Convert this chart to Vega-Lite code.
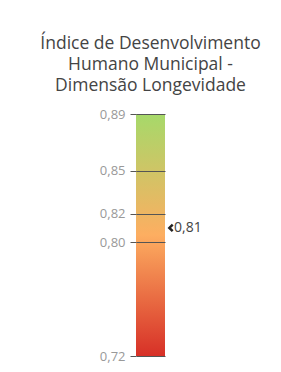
{
  "$schema": "https://vega.github.io/schema/vega-lite/v6.json",
  "autosize": "none",
  "width": 29,
  "height": 242,
  "padding": {"left": 136, "top": 114, "right": 116, "bottom": 16},
  "background": "white",
  "config": {
    "view": {"stroke": null},
    "font": "Open Sans",
    "locale": {"number": {"decimal": ",", "thousands": ".", "grouping": [3], "currency": ["R$", ""]}}
  },
  "title": {
    "text": ["Índice de Desenvolvimento", "Humano Municipal -", "Dimensão Longevidade"],
    "fontSize": 17.5,
    "fontWeight": "normal",
    "font": "Open Sans",
    "color": "#444444",
    "lineHeight": 21,
    "anchor": "middle",
    "offset": 14
  },
  "layer": [
    {
      "data": {"values": [{"indicador": "IDHM Longevidade", "min": 0.72, "max": 0.89}]},
      "mark": {
        "type": "rect",
        "color": {
          "gradient": "linear", "x1": 0, "y1": 0, "x2": 0, "y2": 1,
          "stops": [
            {"offset": 0, "color": "#a6d96a"},
            {"offset": 0.5, "color": "#fdae61"},
            {"offset": 1, "color": "#d73027"}
          ]
        }
      },
      "encoding": {
        "y": {
          "field": "min", "type": "quantitative",
          "scale": {"domain": [0.72, 0.89], "nice": false, "zero": false},
          "axis": {
            "values": [0.72, 0.8, 0.82, 0.85, 0.89],
            "title": null,
            "domain": false,
            "tickSize": 6,
            "tickColor": "#555555",
            "grid": true,
            "gridColor": "#555555",
            "gridOpacity": 1,
            "zindex": 1,
            "labelColor": "#999999",
            "labelFontSize": 13,
            "labelPadding": 5,
            "labelFont": "Open Sans",
            "format": ".2f"
          }
        },
        "y2": {"field": "max"}
      }
    },
    {
      "data": {"values": [{"indicador": "IDHM Longevidade", "valor": 0.81}]},
      "mark": {"type": "point", "shape": "M0.5,-1L-0.5,0L0.5,1", "filled": false, "stroke": "#222222", "strokeWidth": 2.5, "size": 45, "opacity": 1, "x": {"expr": "width"}, "xOffset": 6},
      "encoding": {"y": {"field": "valor", "type": "quantitative"}}
    },
    {
      "data": {"values": [{"indicador": "IDHM Longevidade", "valor": 0.81}]},
      "mark": {"type": "text", "align": "left", "baseline": "middle", "fontSize": 14, "color": "#444444", "font": "Open Sans", "x": {"expr": "width"}, "xOffset": 9},
      "encoding": {
        "y": {"field": "valor", "type": "quantitative"},
        "text": {"field": "valor", "type": "quantitative", "format": ".2f"}
      }
    }
  ]
}
